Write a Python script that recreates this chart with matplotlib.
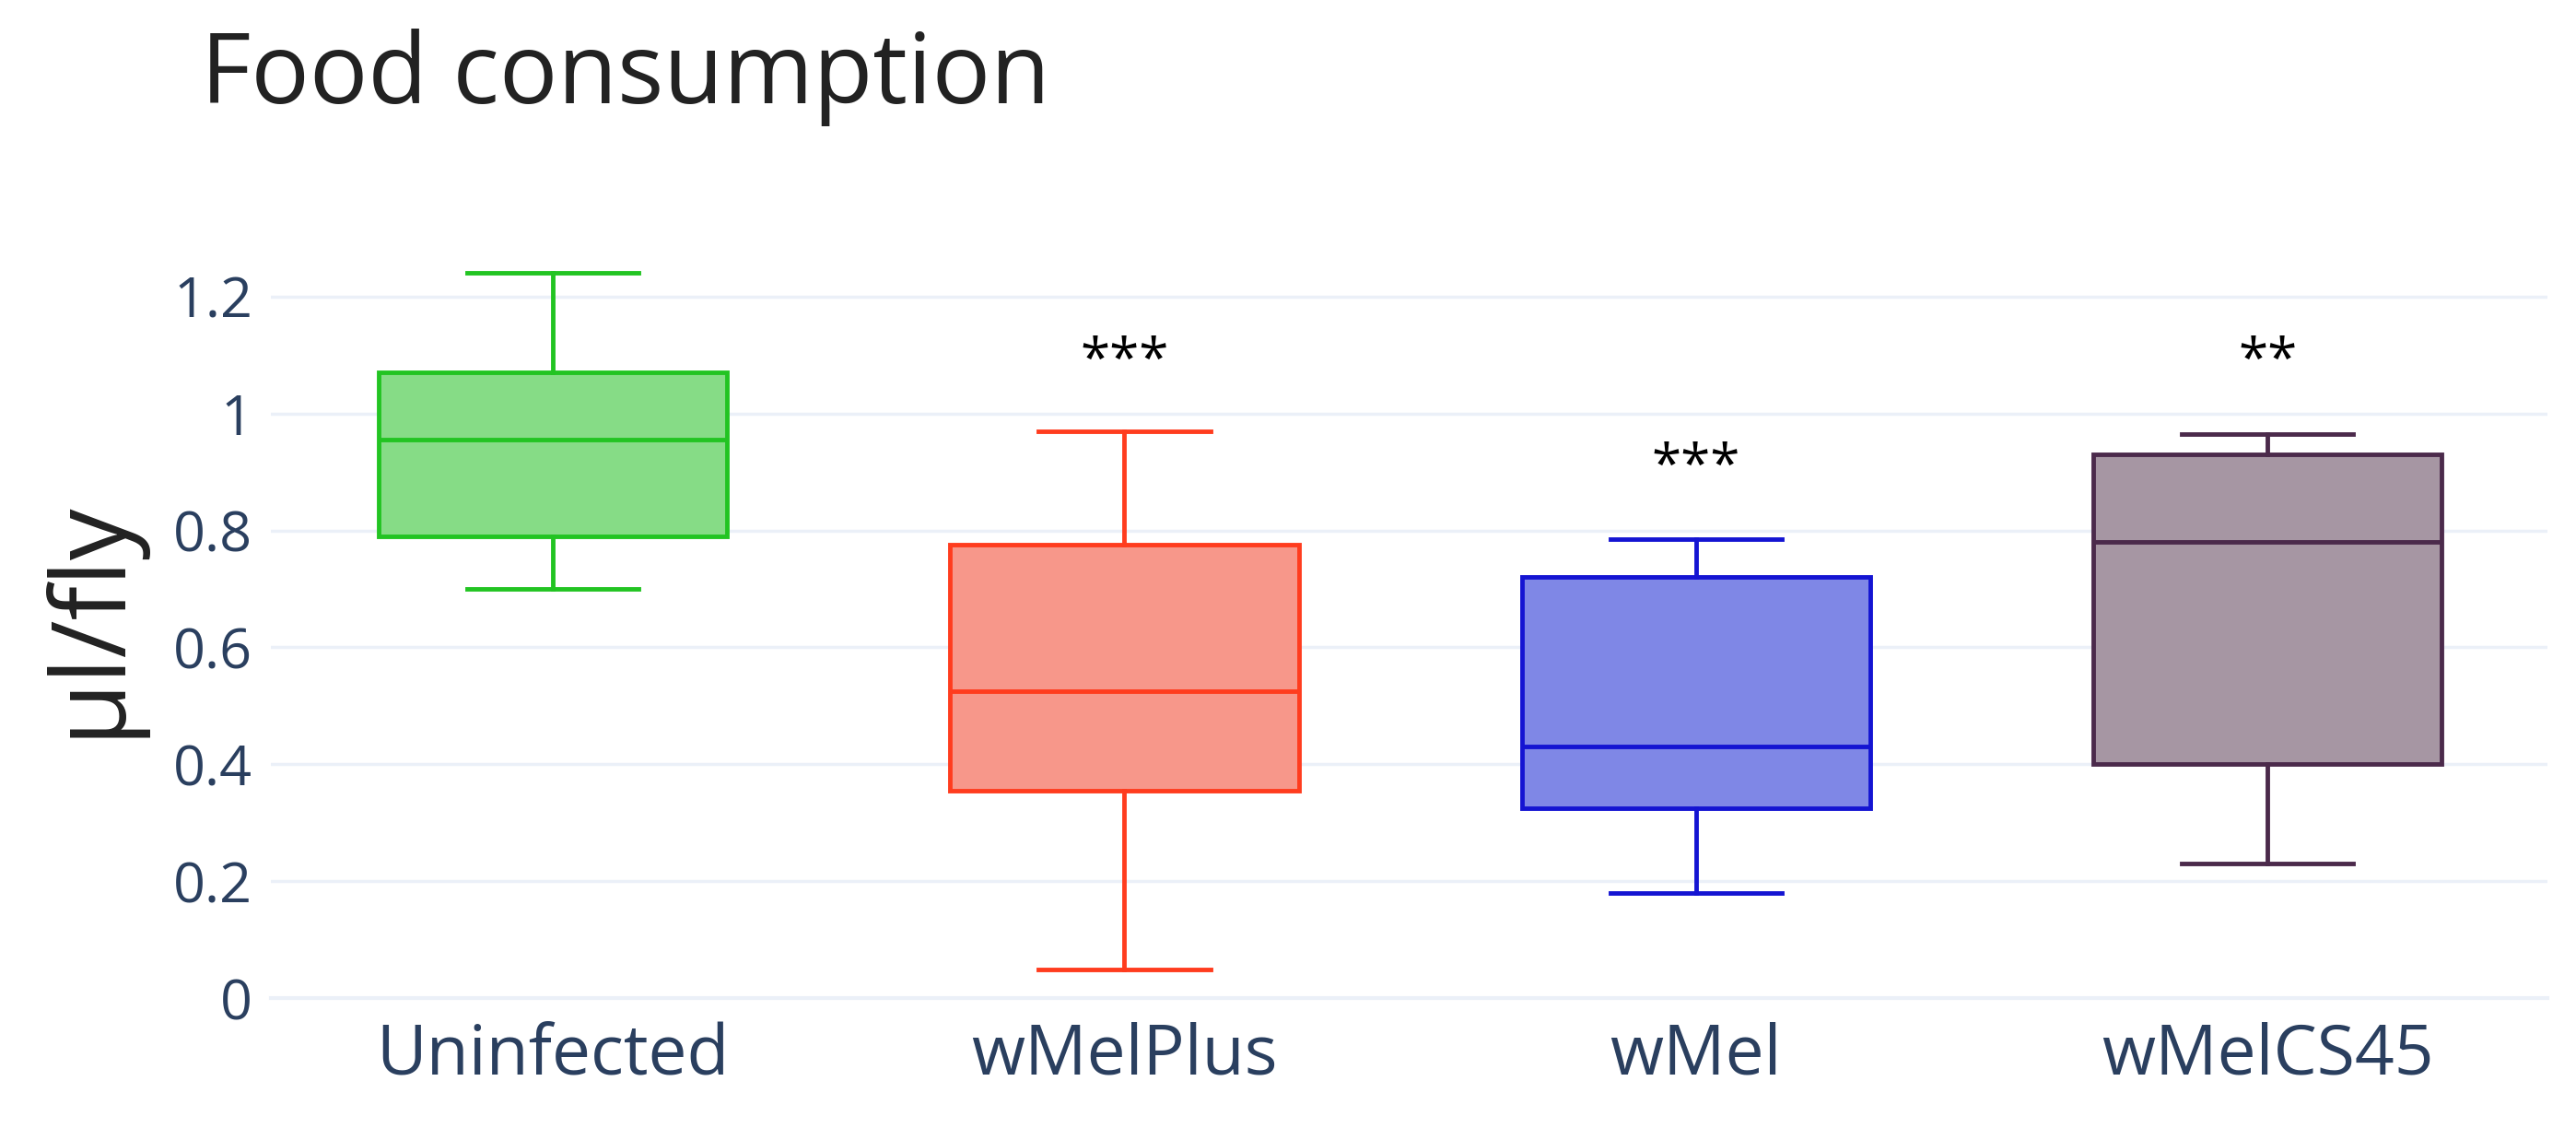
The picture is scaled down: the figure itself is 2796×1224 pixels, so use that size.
import matplotlib
matplotlib.use("Agg")
import matplotlib.pyplot as plt

groups = ["Uninfected", "wMelPlus", "wMel", "wMelCS45"]
lows = [0.70, 0.05, 0.18, 0.23]
q1s = [0.79, 0.355, 0.325, 0.40]
medians = [0.955, 0.525, 0.43, 0.78]
q3s = [1.07, 0.775, 0.72, 0.93]
highs = [1.24, 0.97, 0.785, 0.965]
stars = ["", "***", "***", "**"]
star_y = [0, 1.04, 0.86, 1.04]

line_colors = ["#22c422", "#ff3c1e", "#1414d2", "#4b2a4b"]
fill_colors = ["#86dc86", "#f7978a", "#7f87e6", "#a696a3"]

plt.rcParams['font.family'] = ['Open Sans', 'DejaVu Sans']
fig = plt.figure(figsize=(27.96, 12.24), dpi=100)
ax = fig.add_axes([0.105, 0.115, 0.884, 0.674])

stats = []
for i, g in enumerate(groups):
    stats.append({"label": g, "whislo": lows[i], "q1": q1s[i], "med": medians[i],
                  "q3": q3s[i], "whishi": highs[i], "fliers": []})

for i, s in enumerate(stats):
    c = line_colors[i]
    ax.bxp([s], positions=[i], widths=0.61, patch_artist=True, showfliers=False,
           boxprops=dict(facecolor=fill_colors[i], edgecolor=c, linewidth=3.5),
           medianprops=dict(color=c, linewidth=3.5),
           whiskerprops=dict(color=c, linewidth=3.5),
           capprops=dict(color=c, linewidth=3.5), capwidths=0.3)
    if stars[i]:
        ax.text(i, star_y[i], stars[i], ha="center", va="bottom", fontsize=42, color="black")

ax.set_xlim(-0.494, 3.49)
ax.set_ylim(0, 1.3)
ax.set_yticks([0, 0.2, 0.4, 0.6, 0.8, 1.0, 1.2])
ax.set_yticklabels(["0", "0.2", "0.4", "0.6", "0.8", "1", "1.2"])
ax.grid(axis="y", color="#ebf0f8", linewidth=2.5)
ax.set_axisbelow(True)
for sp in ["top", "right", "left"]:
    ax.spines[sp].set_visible(False)
ax.spines["bottom"].set_color("#ebf0f8")
ax.spines["bottom"].set_linewidth(3)
ax.tick_params(axis="both", length=0, colors="#2a3f5f", labelsize=44, pad=14)
ax.tick_params(axis="x", labelsize=54, pad=18)
ax.set_ylabel("µl/fly", fontsize=80, color="#222222", labelpad=24)
fig.text(0.078, 0.975, "Food consumption", fontsize=76, color="#222222", va="top")

fig.savefig("out.png", dpi=100)
